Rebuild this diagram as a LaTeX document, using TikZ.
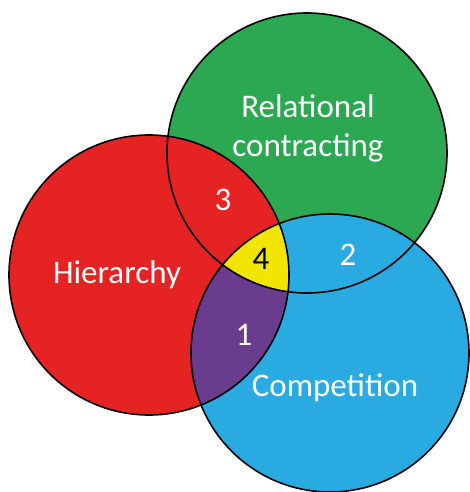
\documentclass[tikz,border=0pt]{standalone}
\usepackage{fontspec}
\setmainfont{Carlito}
\definecolor{cred}{RGB}{228,35,34}
\definecolor{cgreen}{RGB}{44,168,82}
\definecolor{cblue}{RGB}{41,171,226}
\definecolor{cpurple}{RGB}{106,60,142}
\definecolor{cyellow}{RGB}{242,230,0}
\begin{document}
\begin{tikzpicture}[x=1pt,y=-1pt,
  lbl/.style={text=white,font=\fontsize{33}{39}\selectfont,align=center,inner sep=0pt},
  outline/.style={draw=black,line width=1.6pt}]
\useasboundingbox (0,0) rectangle (470,492);
\def\rG{(307,153) circle (140)}
\def\rR{(149,275) circle (140)}
\def\rB{(330,353) circle (139)}
\fill[cgreen] \rG;
\fill[cred] \rR;
\fill[cblue] \rB;
\begin{scope}
  \clip \rR;
  \fill[cpurple] \rB;
\end{scope}
\begin{scope}
  \clip \rR;
  \clip \rB;
  \fill[cyellow] \rG;
\end{scope}
\draw[outline] \rG;
\draw[outline] \rR;
\draw[outline] \rB;
\node[lbl] (rel) at (308,128) {Relational\\contracting};
\node[lbl] (hier) at (117,275) {Hierarchy};
\node[lbl] (comp) at (335,388) {Competition};
\node[lbl] (n3) at (223,200) {3};
\node[lbl,text=black] (n4) at (261,259) {4};
\node[lbl] (n2) at (348,255) {2};
\node[lbl] (n1) at (244,335) {1};
\end{tikzpicture}
\end{document}
